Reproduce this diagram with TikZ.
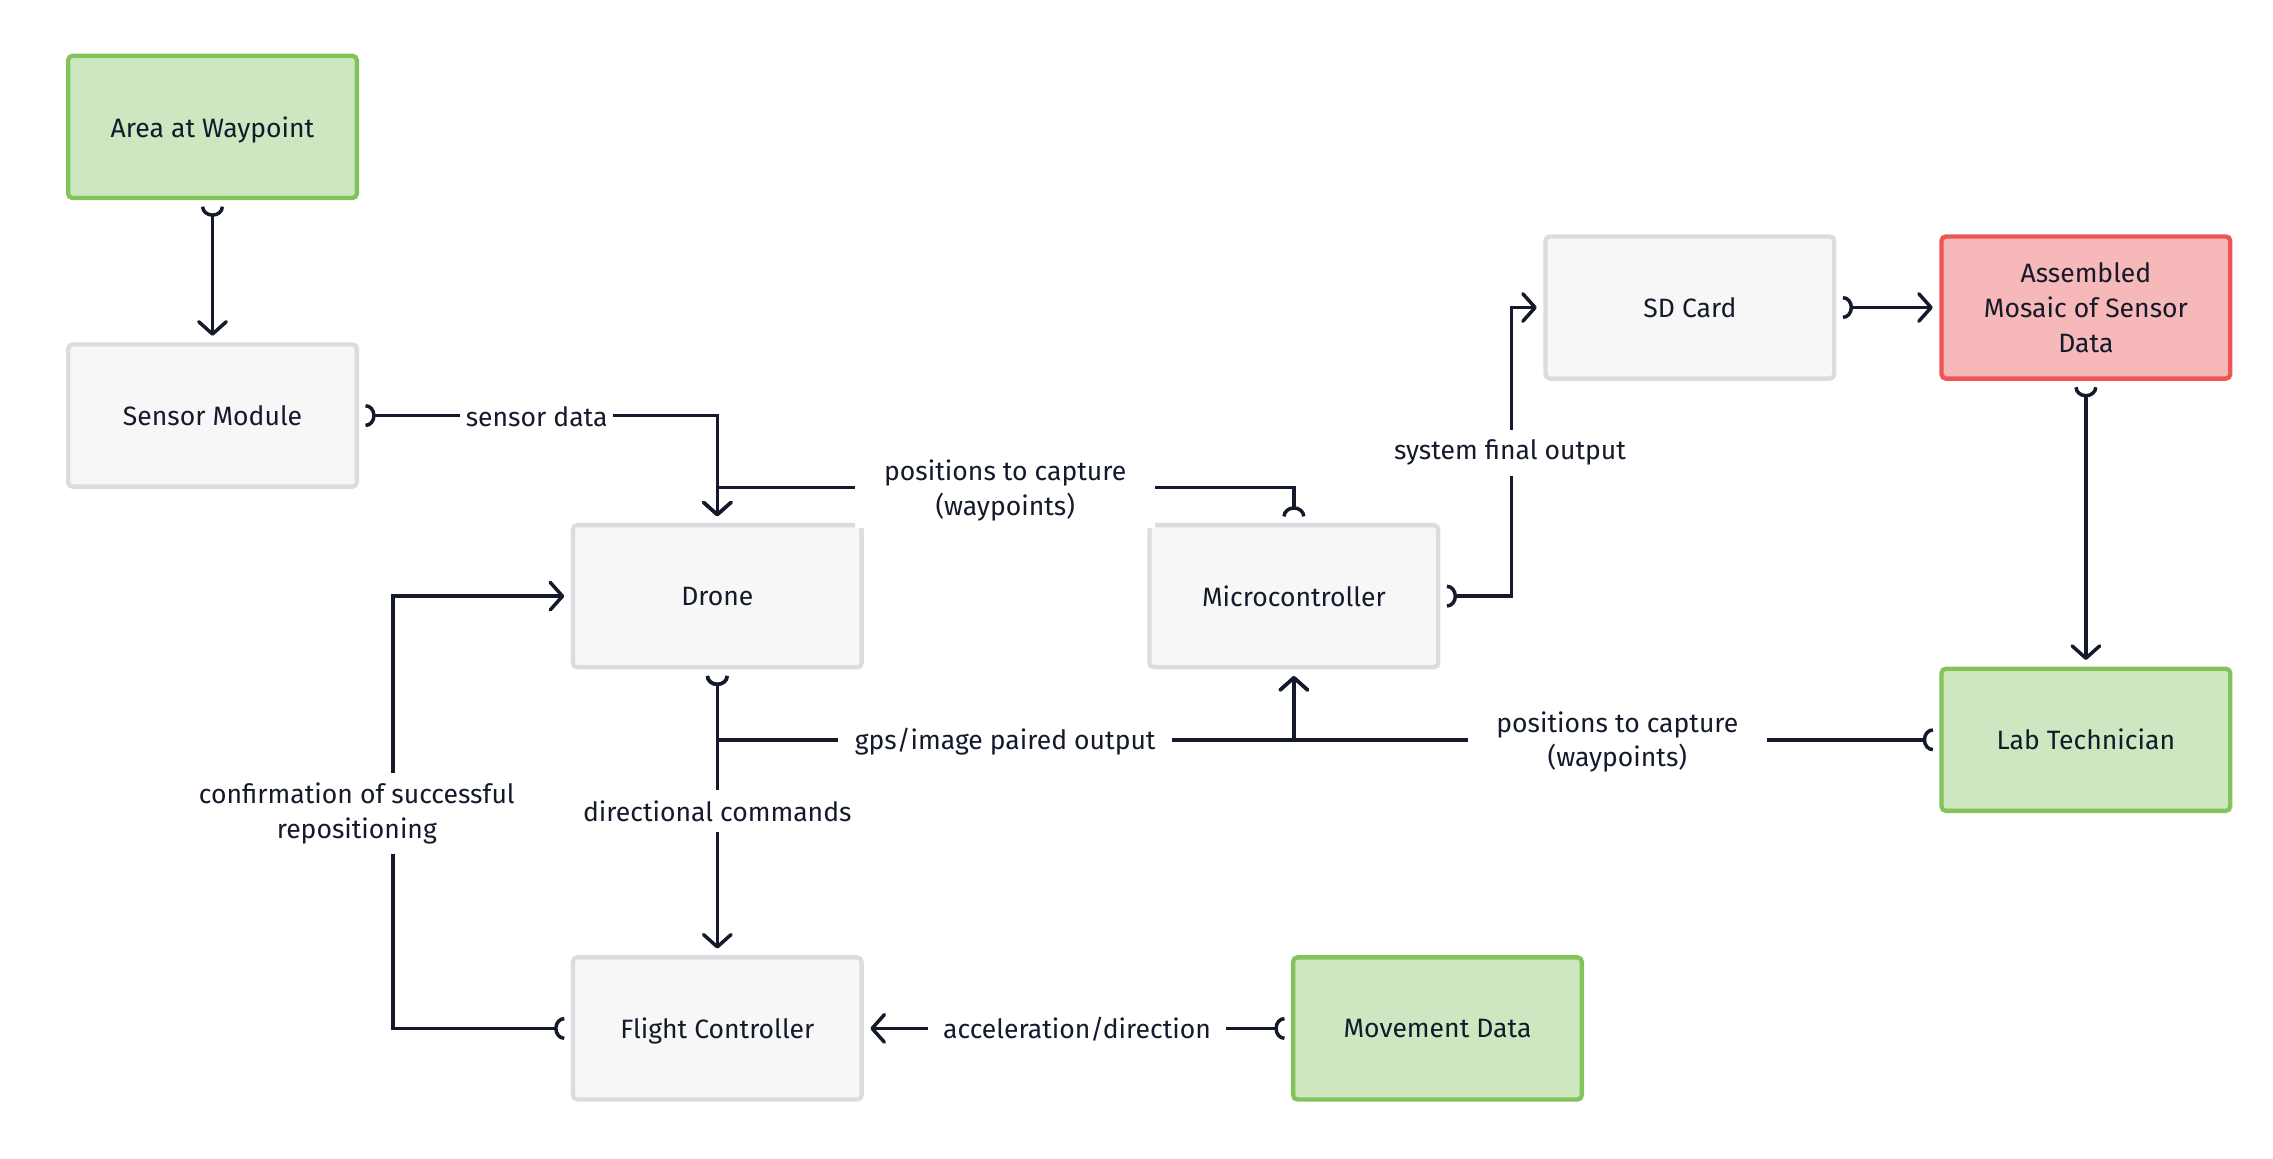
\documentclass[tikz,border=0pt]{standalone}
\usepackage{fontspec}
\setmainfont{Fira Sans}
\usetikzlibrary{arrows.meta}
\definecolor{linec}{HTML}{141A2B}
\definecolor{txtc}{HTML}{141A2B}
\definecolor{grayfill}{HTML}{F7F7F7}
\definecolor{grayline}{HTML}{DCDBE0}
\definecolor{greenfill}{HTML}{CDE8C0}
\definecolor{greenline}{HTML}{82C45A}
\definecolor{redfill}{HTML}{F6B8B8}
\definecolor{redline}{HTML}{EE5656}
\begin{document}
\begin{tikzpicture}[x=1pt,y=-1pt,
  box/.style={rectangle, rounded corners=3pt, line width=3pt, minimum width=199pt, minimum height=98pt,
    outer sep=6pt, align=center, text=txtc, font=\fontsize{18.3}{24}\selectfont},
  onebox/.style={text depth=0pt},
  graybox/.style={box, draw=grayline, fill=grayfill},
  greenbox/.style={box, draw=greenline, fill=greenfill},
  redbox/.style={box, draw=redline, fill=redfill},
  conn/.style={draw=linec, line width=2.4pt,
    {Arc Barb[reversed,length=7pt,width=16pt]}-{Straight Barb[length=8.5pt,width=19pt,line join=round,line cap=round]}},
  lbl/.style={fill=white, text=txtc, align=center, inner xsep=4pt, inner ysep=3pt, font=\fontsize{18.3}{24}\selectfont}
]
\useasboundingbox (0,0) rectangle (1567,799);

% boxes
\node[greenbox, onebox] (area)     at (146.5,87.5)  {Area at Waypoint};
\node[graybox]  (sensor)   at (146.5,286.5) {Sensor Module};
\node[graybox]  (drone)    at (494.5,411)   {Drone};
\node[graybox]  (micro)    at (892,411)     {Microcontroller};
\node[graybox]  (sd)       at (1165,212)    {SD Card};
\node[redbox]   (mosaic)   at (1438,212)    {Assembled\\Mosaic of Sensor\\Data};
\node[greenbox] (lab)      at (1438,510)    {Lab Technician};
\node[graybox, onebox]  (flight)   at (494.5,709)   {Flight Controller};
\node[greenbox] (movement) at (991,709)     {Movement Data};

% helper coordinates
\coordinate (wpA) at (892,336);
\coordinate (xsd) at (1042,0);
\coordinate (xconf) at (271,0);
\coordinate (ygps) at (0,510);

% connectors
\draw[conn] (area) -- (sensor);
\draw[conn] (sensor.east) -| (drone.north);
\draw[conn] (micro.north) -- (wpA) -| (drone.north);
\draw[conn] (micro.east) -| (xsd |- sd.west) -- (sd.west);
\draw[conn] (sd) -- (mosaic);
\draw[conn] (mosaic) -- (lab);
\draw[conn] (lab.west) -| (micro.south);
\draw[conn] (drone.south) |- (micro.south |- ygps) -- (micro.south);
\draw[conn] (drone) -- (flight);
\draw[conn] (flight.west) -| (xconf |- drone.west) -- (drone.west);
\draw[conn] (movement) -- (flight);

% labels
\node[lbl] (l1) at (370,287.5) {sensor data};
\node[lbl, minimum width=207pt, minimum height=52pt] (l2) at (693,338) {positions to capture\\(waypoints)};
\node[lbl, inner ysep=7pt] (l3) at (1041,312) {system final output};
\node[lbl, minimum width=206pt, minimum height=50pt] (l4) at (1115,511.5) {positions to capture\\(waypoints)};
\node[lbl, minimum width=230pt] (l5) at (693,511) {gps/image paired output};
\node[lbl, inner ysep=7pt] (l6) at (494.5,559) {directional commands};
\node[lbl, minimum height=56pt] (l7) at (246,561) {confirmation of successful\\repositioning};
\node[lbl, minimum width=205pt] (l8) at (742.5,709.5) {acceleration/direction};
\end{tikzpicture}
\end{document}
